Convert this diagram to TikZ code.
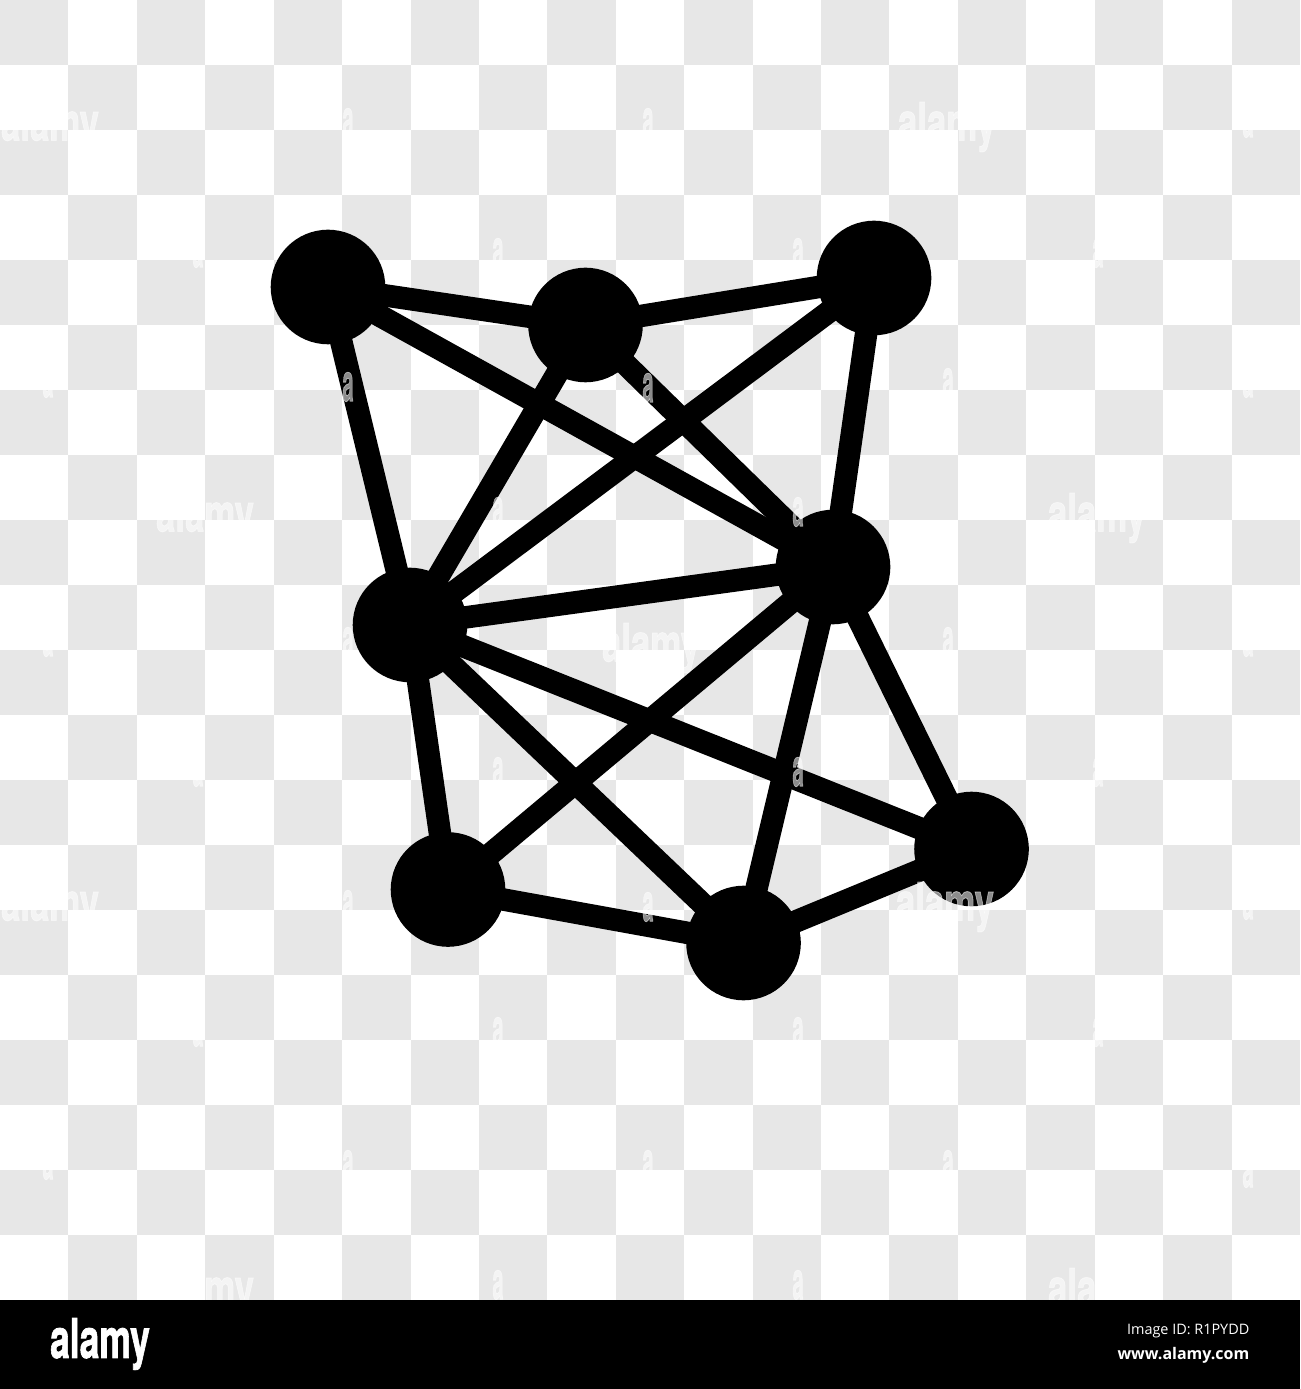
\documentclass[tikz,border=0pt]{standalone}
\usepackage{fontspec}
\newfontfamily\logofont[BoldFeatures={FakeBold=1.6}]{TeX Gyre Heros}
\newfontfamily\captionfont{Open Sans}
\usetikzlibrary{positioning}
\definecolor{checker}{HTML}{E7E7E7}
\begin{document}
\begin{tikzpicture}[
	x=0.01cm, y=-0.01cm,
	% --- Style Definitions ---
	square/.style={fill=checker},
	hub/.style={circle, fill=black, draw=none, inner sep=0pt, minimum size=1.145cm},
	link/.style={line width=0.225cm, black},
	watermark/.style={text=white, text opacity=0.55, inner sep=0pt, font=\logofont\fontsize{15}{15}\selectfont\bfseries, xscale=0.66, transform shape},
	smallmark/.style={watermark, xscale=0.58},
	logo/.style={text=white, inner sep=0pt, font=\logofont\fontsize{15.5}{15.5}\selectfont\bfseries, xscale=0.65, transform shape},
	credit/.style={text=white, inner sep=0pt, anchor=east, font=\captionfont\fontsize{4.1}{5}\selectfont},
	]
	
	% --- Parameters ---
	\def\Cw{68.42}      % Square width
	\def\Ch{65}         % Square height
	
	\useasboundingbox (0,0) rectangle (1300,1389);
	\clip (0,0) rectangle (1300,1389);
	
	% --- Checkerboard ---
	\fill[white] (0,0) rectangle (1300,1300);
	\foreach \col in {0,...,18} {
		\foreach \row in {0,...,19} {
			\pgfmathtruncatemacro{\odd}{mod(\col+\row,2)}
			\ifnum\odd=0
				\fill[square] (\col*\Cw,\row*\Ch) rectangle ++(\Cw,\Ch);
			\fi
		}
	}
	
	% --- Hubs ---
	\node[hub] (nw) at (328,287) {};
	\node[hub] (top) at (585.5,325) {};
	\node[hub] (ne) at (874,278) {};
	\node[hub] (mid) at (833,567) {};
	\node[hub] (west) at (410,625) {};
	\node[hub] (east) at (971.5,849) {};
	\node[hub] (sw) at (448,889.5) {};
	\node[hub] (south) at (743.5,943) {};
	
	% --- Links ---
	\foreach \from/\to in {nw/top, top/ne, nw/west, nw/mid, top/west, top/mid, ne/west, ne/mid,
		west/mid, west/sw, west/south, west/east, mid/sw, mid/south, mid/east, sw/south, south/east} {
		\draw[link] (\from.center) -- (\to.center);
	}
	
	% --- Watermark ---
	\foreach \x/\y in {348/123, 648/123, 1248/123, 48/383, 348/387, 648/388, 948/383, 1248/383,
		48/642, 348/642, 948/642, 1248/642, 348/905, 648/907, 1248/905,
		48/1165, 348/1165, 648/1165, 948/1165, 1248/1173,
		198/253, 498/253, 798/253, 1098/253,
		498/512, 798/512, 198/772, 498/772, 798/772, 1098/772,
		198/1032, 498/1032, 798/1032, 1098/1032, 498/1285, 798/1285} {
		\node[smallmark] (a\x-\y) at (\x,\y) {a};
	}
	\foreach \x/\y in {50/127, 947/127, 205/518, 1097/518, 651/648, 50/907, 945/907, 205/1293, 1097/1293} {
		\node[watermark] (word\x-\y) at (\x,\y) {alamy};
	}
	
	% --- Footer ---
	\fill[black] (0,1300) rectangle (1300,1389);
	\node[logo] (brand) at (100,1344) {alamy};
	\node[credit] (imageid) at (1250,1331) {Image ID: R1PYDD};
	\node[credit, font=\captionfont\fontsize{4.55}{5}\selectfont\bfseries] (site) at (1250,1355) {www.alamy.com};
	
\end{tikzpicture}
\end{document}
